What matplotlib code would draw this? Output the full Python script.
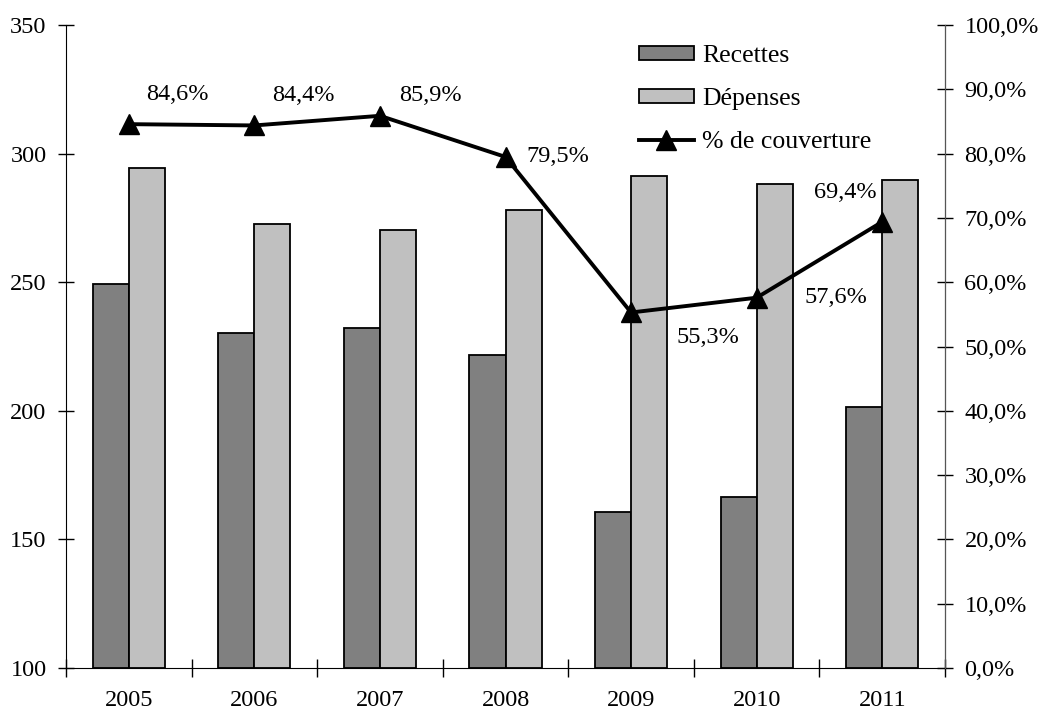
import numpy as np
import matplotlib.pyplot as plt
from matplotlib.ticker import FuncFormatter

plt.rcParams['font.family'] = ['Liberation Serif', 'DejaVu Serif']

years = ['2005', '2006', '2007', '2008', '2009', '2010', '2011']
recettes = [249.3, 230.2, 232.2, 221.7, 160.8, 166.4, 201.3]
depenses = [294.4, 272.6, 270.3, 278.0, 291.3, 288.2, 289.7]
couverture = [0.846, 0.844, 0.859, 0.795, 0.553, 0.576, 0.694]
labels = ['84,6%', '84,4%', '85,9%', '79,5%', '55,3%', '57,6%', '69,4%']
# label offsets in pixels from each point
offsets = [(49, 30), (49, 30), (50, 20), (52, 0), (77, -25), (79, 0), (-37, 29)]

fig = plt.figure(figsize=(10.45, 7.19), dpi=100)
ax = fig.add_axes([0.0632, 0.071, 0.8411, 0.894])
ax2 = ax.twinx()

x = np.arange(len(years))
w = 0.287
b1 = ax.bar(x - w / 2, np.array(recettes) - 100, w, bottom=100, color='#808080',
            edgecolor='black', linewidth=1.3, label='Recettes')
b2 = ax.bar(x + w / 2, np.array(depenses) - 100, w, bottom=100, color='#C0C0C0',
            edgecolor='black', linewidth=1.3, label='Dépenses')

ax.set_xlim(-0.5, len(years) - 0.5)
ax.set_ylim(100, 350)
ax.set_yticks(np.arange(100, 351, 50))
ax.set_xticks(np.arange(-0.5, len(years), 1.0))
ax.set_xticklabels([])
ax.set_xticks(x, minor=True)
ax.set_xticklabels(years, minor=True)
ax.tick_params(axis='x', which='major', direction='inout', length=13, width=1)
ax.tick_params(axis='x', which='minor', length=0, pad=16, labelsize=17.5)
ax.tick_params(axis='y', direction='inout', length=12, width=1, labelsize=17.5, pad=8)

ax2.set_ylim(0, 1)
ax2.set_yticks(np.arange(0, 1.01, 0.1))
ax2.yaxis.set_major_formatter(FuncFormatter(lambda v, p: ('%.1f%%' % (v * 100)).replace('.', ',')))
ax2.tick_params(axis='y', direction='inout', length=12, width=1, labelsize=17.5, pad=8)

line, = ax2.plot(x, couverture, color='black', linewidth=2.8, marker='^',
                 markersize=15, label='% de couverture')
for xi, yi, lab, off in zip(x, couverture, labels, offsets):
    ax2.annotate(lab, (xi, yi), xytext=off, textcoords='offset pixels',
                 ha='center', va='center', fontsize=17.5)

for a in (ax, ax2):
    a.spines['top'].set_visible(False)
ax2.spines['left'].set_visible(False)
ax2.spines['bottom'].set_visible(False)
ax2.spines['right'].set_color('#555555')

ax2.legend([b1, b2, line], ['Recettes', 'Dépenses', '% de couverture'],
           loc='upper left', bbox_to_anchor=(0.64, 0.985), frameon=False,
           fontsize=18.5, handlelength=2.15, handleheight=0.5, labelspacing=0.82,
           handletextpad=0.3, borderaxespad=0)

fig.savefig('out.png', dpi=100)
